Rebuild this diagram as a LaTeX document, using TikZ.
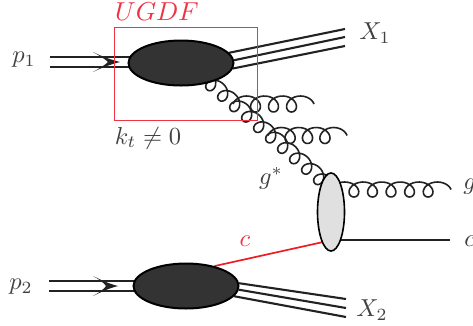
\documentclass[tikz,border=0pt]{standalone}
\usetikzlibrary{shapes.geometric,calc}
\definecolor{ink}{HTML}{222222}
\definecolor{lab}{HTML}{404040}
\definecolor{redl}{HTML}{EE3344}
\definecolor{redq}{HTML}{EE1C25}
\newcommand\gluonline[5]{% from, to, loops, a, b
  \path let \p1=($(#2)-(#1)$), \n1={atan2(\y1,\x1)}, \n2={veclen(\x1,\y1)} in
    \pgfextra{\pgfmathsetmacro\gang{\n1}\pgfmathsetmacro\glen{\n2}\global\let\gangg\gang\global\let\glenn\glen};
  \pgfmathsetmacro\gp{(\glenn-2*#4)/(#3+0.5)}
  \pgfmathsetmacro\gtend{270+360*#3}
  \pgfmathtruncatemacro\gsam{24*#3+14}
  \draw[gluonstroke,shift={(#1)},rotate=\gangg]
    plot[smooth,samples=\gsam,domain=90:\gtend,variable=\t]
    ({\gp*((\t-90)/360)-#4*sin(\t)+#4},{#5*cos(\t)});
}
\begin{document}
\begin{tikzpicture}[x=1pt,y=-1pt,
  lbl/.style={scale=2.45,text=lab,inner sep=0pt},
  rlbl/.style={lbl,text=redl},
  blob/.style={ellipse,draw=black,fill=black!80,line width=2pt,inner sep=0pt,minimum width=105pt,minimum height=45pt},
  vertex/.style={ellipse,draw=black,fill=black!12,line width=1.6pt,inner sep=0pt,minimum width=27pt,minimum height=78pt},
  beam/.style={draw=ink,line width=2.1pt},
  tip/.style={fill=ink,draw=none},
  gluonstroke/.style={draw=ink,line width=1.6pt}]
\useasboundingbox (0,0) rectangle (473,325);
\clip (0,0) rectangle (473,325);
% free ends
\coordinate (pa) at (50,57); \coordinate (pb) at (50,67);
\coordinate (qa) at (49,281); \coordinate (qb) at (49,291);
\coordinate (xa) at (345,29); \coordinate (xb) at (345,37); \coordinate (xc) at (345,46);
\coordinate (ya) at (346,299); \coordinate (yb) at (346,308); \coordinate (yc) at (346,317);
\coordinate (cend) at (450,240);
\coordinate (gS) at (197,71); \coordinate (gE) at (335,191);
\coordinate (gAs) at (233,104); \coordinate (gAe) at (314,104);
\coordinate (gBs) at (268,135.5); \coordinate (gBe) at (347,135.5);
\coordinate (gCs) at (331,189.5); \coordinate (gCe) at (451,189.5);
\coordinate (box1) at (114,27); \coordinate (box2) at (257,120);
\node[blob,draw=none,fill=none] (A) at (181,63) {};
\node[blob,draw=none,fill=none] (B) at (186,286) {};
\node[vertex,draw=none,fill=none] (V) at (331,212) {};
% lines under blobs
\draw[beam] (pa) -- (A.center |- pa);
\draw[beam] (pb) -- (A.center |- pb);
\draw[beam] (qa) -- (B.center |- qa);
\draw[beam] (qb) -- (B.center |- qb);
\fill[tip] (93,52) .. controls (103,57) and (112,60) .. (120,62) .. controls (112,64) and (103,67) .. (93,72) .. controls (100,68) and (105,65) .. (108,62) .. controls (105,59) and (100,56) .. cycle;
\fill[tip] (93,276) .. controls (103,281) and (110,284) .. (118,286) .. controls (110,288) and (103,291) .. (93,296) .. controls (100,292) and (104,289) .. (106,286) .. controls (104,283) and (100,280) .. cycle;
\draw[beam] (A.12) -- (xa);
\draw[beam] (A.3) -- (xb);
\draw[beam] (A.-6) -- (xc);
\draw[beam] (B.3) -- (ya);
\draw[beam] (B.-4) -- (yb);
\draw[beam] (B.-12) -- (yc);
\draw[draw=redq,line width=1.7pt] (B.35) -- (V.-107);
\draw[ink,line width=1.6pt] (V.center |- cend) -- (cend);
% gluons
\gluonline{gS}{gE}{10}{8}{7.5}
\gluonline{gAs}{gAe}{3}{9}{8}
\gluonline{gBs}{gBe}{3}{9}{8}
\gluonline{gCs}{gCe}{5}{9}{7.5}
% blobs
\node[blob] at (A) {};
\node[blob] at (B) {};
\node[vertex] at (V) {};
\draw[redl,line width=0.8pt] (box1) rectangle (box2);
% labels
\node[lbl] (l1) at (24,60) {$p_1$};
\node[lbl] (l2) at (21,287) {$p_2$};
\node[rlbl,scale=1.06] (l3) at (157,12) {$UGDF$};
\node[lbl] (l4) at (375,33) {$X_1$};
\node[lbl] (l5) at (372,310) {$X_2$};
\node[lbl] (l6) at (148,138) {$k_t\neq 0$};
\node[lbl] (l7) at (271,178) {$g^*$};
\node[lbl,anchor=west] (l8) at (463,187) {$g$};
\node[lbl,anchor=west] (l9) at (464,241) {$c$};
\node[rlbl] (l10) at (245,241) {$c$};
\end{tikzpicture}
\end{document}
